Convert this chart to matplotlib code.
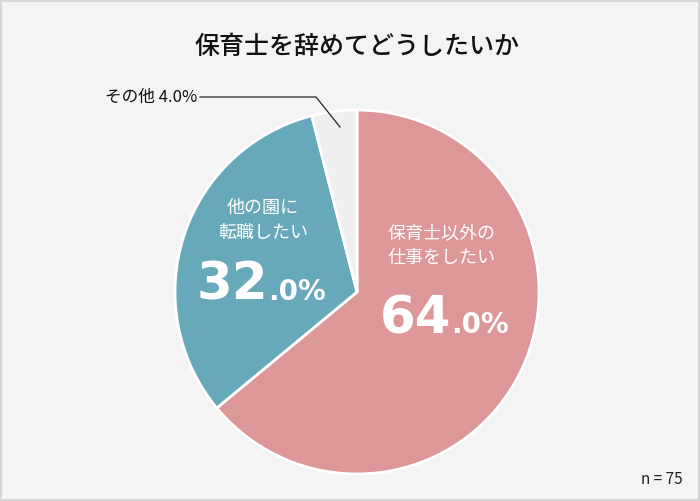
import matplotlib
matplotlib.use("Agg")
import matplotlib.pyplot as plt
from matplotlib.patches import Rectangle

plt.rcParams['font.family'] = ['Noto Sans CJK JP', 'DejaVu Sans']

title = "保育士を辞めてどうしたいか"
categories = ["保育士以外の\n仕事をしたい", "他の園に\n転職したい", "その他"]
values = [64.0, 32.0, 4.0]
colors = ["#DE9798", "#67A8BA", "#EFEFEF"]
n_label = "n=75"

W, H = 700, 501
fig = plt.figure(figsize=(7, 5.01), dpi=100)
fig.patch.set_facecolor("#F4F4F4")
ax = fig.add_axes([0, 0, 1, 1])
ax.set_xlim(0, W)
ax.set_ylim(0, H)
ax.set_aspect('equal')
ax.axis('off')

def Y(py):
    return H - py

ax.add_patch(Rectangle((1, 1), W - 2, H - 2, fill=False, edgecolor="#D6D6D6", linewidth=1.5))

ax.pie(values, colors=colors, startangle=90, counterclock=False,
       center=(357, Y(292)), radius=182, frame=True,
       wedgeprops=dict(edgecolor="white", linewidth=2))
ax.set_xlim(0, W)
ax.set_ylim(0, H)
ax.axis('off')

ax.text(357, Y(47), title, ha='center', va='center', fontsize=18, color="#111111",
        fontweight='medium')

num_font = ['DejaVu Sans']

# Pink slice labels
ax.text(442, Y(246), categories[0], ha='center', va='center', fontsize=13,
        color="white", linespacing=1.5)
ax.text(451, Y(333), f"{int(values[0])}", ha='right', va='baseline', fontsize=37,
        fontweight='bold', color="white", family=num_font)
ax.text(451, Y(333), f".{str(values[0]).split('.')[1]}%", ha='left', va='baseline',
        fontsize=20, fontweight='bold', color="white", family=num_font)

# Teal slice labels
ax.text(263, Y(220), categories[1], ha='center', va='center', fontsize=13,
        color="white", linespacing=1.5)
ax.text(268, Y(300), f"{int(values[1])}", ha='right', va='baseline', fontsize=37,
        fontweight='bold', color="white", family=num_font)
ax.text(268, Y(300), f".{str(values[1]).split('.')[1]}%", ha='left', va='baseline',
        fontsize=20, fontweight='bold', color="white", family=num_font)

# Other label with leader line
ax.text(197, Y(97), f"{categories[2]} {values[2]:.1f}%", ha='right', va='center',
        fontsize=12, color="#111111")
ax.plot([200, 316, 340], [Y(97), Y(97), Y(127)], color="#222222", linewidth=0.9)

ax.text(683, Y(479), n_label.replace("=", " = "), ha='right', va='center',
        fontsize=11, color="#222222")

fig.savefig("out.png", dpi=100, facecolor=fig.get_facecolor())
